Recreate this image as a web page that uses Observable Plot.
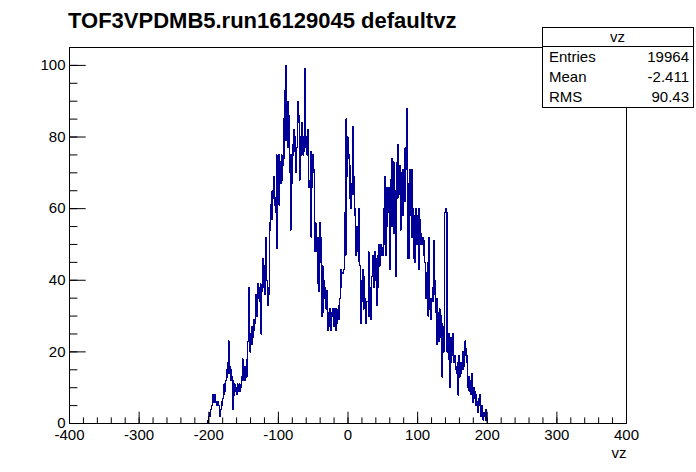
<!DOCTYPE html>
<html>
<head>
<meta charset="utf-8">
<script src="https://cdn.jsdelivr.net/npm/d3@7"></script>
<script src="https://cdn.jsdelivr.net/npm/@observablehq/plot@0.6"></script>
<style>
  html, body { margin: 0; padding: 0; background: #fff; }
  #chart { width: 696px; height: 472px; }
</style>
</head>
<body>
<div id="chart"></div>
<script>
// ---- data ----
const title = "TOF3VPDMB5.run16129045 defaultvz";
const xLabel = "vz";
const statsName = "vz";
const statsLabels = ["Entries", "Mean", "RMS"];
const statsValues = ["19964", "-2.411", "90.43"];

const xDomain = [-400, 400];
const yDomain = [0, 105];
const xMajorTicks = [-400, -300, -200, -100, 0, 100, 200, 300, 400];
const xMinorTicks = d3.range(-400, 401, 20);
const yMajorTicks = [0, 20, 40, 60, 80, 100];
const yMinorTicks = d3.range(0, 106, 5);

// bin width 1, first bin lower edge
const firstBin = -201;
const binWidth = 1;
const counts = [
  1,2,3,2,4,5,7,8,6,7,          // -201..-192
  8,6,6,5,6,5,3,2,4,6,          // -191..-182
  5,7,8,11,9,12,15,13,17,23,    // -181..-172
  14,16,12,15,13,4,12,8,11,9,   // -171..-162
  10,8,11,9,10,11,9,10,13,18,   // -161..-152
  12,16,14,12,16,13,18,23,38,27,   // -151..-142
  20,25,22,27,24,29,26,28,31,36,   // -141..-132
  30,39,35,38,34,39,25,37,40,46,   // -131..-122
  38,44,36,52,40,33,38,36,56,54,   // -121..-112
  61,57,65,63,69,61,63,59,75,49,   // -111..-102
  70,75,61,73,67,75,68,72,85,74,   // -101..-92
  93,100,79,84,90,77,86,70,54,75,  // -91..-82
  67,78,75,82,76,80,70,77,84,90,   // -81..-72
  86,68,80,75,84,78,75,80,76,99,   // -71..-62
  77,80,75,82,68,66,66,76,52,66,   // -61..-52
  75,70,71,48,56,48,52,39,52,37,   // -51..-42
  56,45,52,30,44,31,40,35,38,32,   // -41..-32
  37,33,26,31,27,32,26,31,30,32,   // -31..-22
  31,27,32,26,32,28,31,29,33,35,   // -21..-12
  38,43,42,42,42,43,59,47,85,69,   // -11..-2
  80,74,75,63,72,60,67,83,64,69,   // -1..8
  58,60,47,55,52,48,60,45,44,28,   // 9..18
  40,34,43,32,41,35,28,34,34,34,   // 19..28
  48,30,38,29,36,41,47,44,38,48,   // 29..38
  40,46,33,47,38,50,44,48,50,47,   // 39..48
  49,47,60,50,69,47,66,55,62,59,   // 49..58
  66,43,68,55,74,60,73,53,65,41,   // 59..68
  62,73,63,78,64,72,54,70,62,71,   // 69..78
  58,71,62,77,71,88,46,67,46,60,   // 79..88
  71,58,71,52,60,46,58,45,60,50,   // 89..98
  58,52,60,43,57,50,53,50,52,47,   // 99..108
  51,45,35,42,35,45,30,52,32,35,   // 109..118
  29,34,38,34,51,36,40,31,35,22,   // 119..128
  31,23,32,24,30,28,13,27,20,25,   // 129..138
  59,60,59,20,22,18,25,10,24,17,   // 139..148
  21,25,19,17,19,15,16,14,17,8,    // 149..158
  19,13,17,14,17,15,20,16,19,23,   // 159..168
  21,19,17,10,13,9,12,8,11,14,     // 169..178
  6,10,7,9,5,8,6,3,7,5,            // 179..188
  8,4,2,5,3,1,2,3,1,4,             // 189..198
  1                                // 199
];

// ---- build histogram outline points (step-after) ----
const pts = [{x: xDomain[0], y: 0}];
counts.forEach((c, i) => pts.push({x: firstBin + i * binWidth, y: c}));
pts.push({x: firstBin + counts.length * binWidth, y: 0});
pts.push({x: xDomain[1], y: 0});

// ---- layout ----
const W = 696, H = 472;
const mL = 69, mR = 70, mT = 47, mB = 49;
const fw = W - mL - mR, fh = H - mT - mB;
const font = "'Liberation Sans', Arial, Helvetica, sans-serif";
const fs = 15;

const chart = Plot.plot({
  width: W, height: H,
  marginLeft: mL, marginRight: mR, marginTop: mT, marginBottom: mB,
  style: {fontFamily: font, fontSize: fs + "px", color: "#000", background: "#fff"},
  x: {domain: xDomain, label: null},
  y: {domain: yDomain, label: null},
  marks: [
    Plot.line(pts, {x: "x", y: "y", curve: "step-after", stroke: "#000099", strokeWidth: 1.3, shapeRendering: "crispEdges"}),
    // ticks inside frame
    Plot.tickX(xMinorTicks, {x: d => d, insetTop: fh - 5.6, stroke: "#000"}),
    Plot.tickX(xMajorTicks, {x: d => d, insetTop: fh - 11.3, stroke: "#000"}),
    Plot.tickY(yMinorTicks, {y: d => d, insetRight: fw - 8.4, stroke: "#000"}),
    Plot.tickY(yMajorTicks, {y: d => d, insetRight: fw - 16.7, stroke: "#000"}),
    Plot.axisX({ticks: xMajorTicks, tickSize: 0, tickPadding: 6, fontSize: fs, label: null, tickFormat: d => String(d)}),
    Plot.axisY({ticks: yMajorTicks, tickSize: 0, tickPadding: 4, fontSize: fs, label: null, tickFormat: d => String(d)}),
    Plot.frame({stroke: "#000"}),
    Plot.text([xLabel], {frameAnchor: "bottom-right", dy: 34, text: d => d, fontSize: fs, textAnchor: "end", fill: "#000"})
  ]
});

document.getElementById("chart").appendChild(chart);

// ---- title and stats box ----
const svg = d3.select(chart);
svg.append("text")
  .attr("x", 68).attr("y", 28)
  .attr("text-anchor", "start")
  .attr("font-family", font).attr("font-weight", "bold").attr("font-size", 22)
  .attr("fill", "#000")
  .text(title);

const bx = 542, by = 27, bw = 151, bh = 80, hdr = 19;
const g = svg.append("g").attr("text-anchor", "start");
g.append("rect").attr("x", bx + 0.5).attr("y", by + 0.5).attr("width", bw).attr("height", bh)
  .attr("fill", "#fff").attr("stroke", "#000");
g.append("line").attr("x1", bx + 0.5).attr("x2", bx + bw + 0.5)
  .attr("y1", by + hdr + 0.5).attr("y2", by + hdr + 0.5).attr("stroke", "#000");
g.append("text").attr("x", bx + bw / 2).attr("y", by + hdr / 2 + 5.5)
  .attr("text-anchor", "middle").attr("font-family", font).attr("font-size", fs).attr("fill", "#000")
  .text(statsName);
const rowH = (bh - hdr) / statsLabels.length;
statsLabels.forEach((lab, i) => {
  const yc = by + hdr + rowH * (i + 0.5) + 5.5;
  g.append("text").attr("x", bx + 7).attr("y", yc).attr("text-anchor", "start")
    .attr("font-family", font).attr("font-size", fs).attr("fill", "#000").text(lab);
  g.append("text").attr("x", bx + bw - 4).attr("y", yc).attr("text-anchor", "end")
    .attr("font-family", font).attr("font-size", fs).attr("fill", "#000").text(statsValues[i]);
});
</script>
</body>
</html>
